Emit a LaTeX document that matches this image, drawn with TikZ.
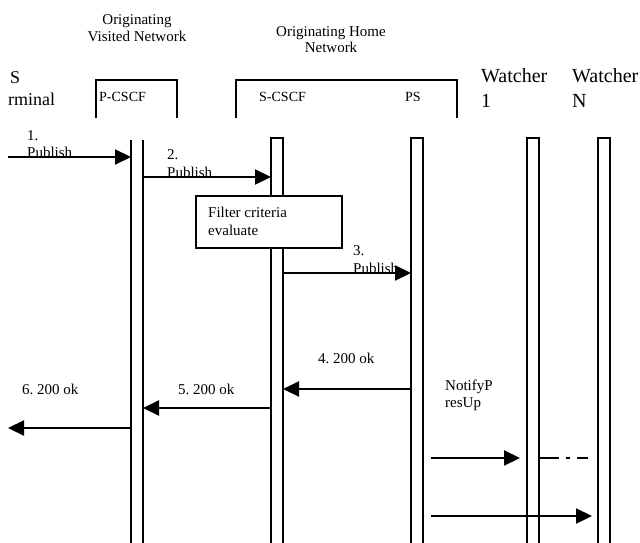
\documentclass[tikz,border=0pt]{standalone}
\usepackage{fontspec}
\setmainfont{Liberation Serif}
\usetikzlibrary{arrows.meta}
\frenchspacing
\tikzset{
  lbl/.style={anchor=base west, inner sep=0pt, font=\fontsize{15}{17}\selectfont},
  hdr/.style={anchor=base, inner sep=0pt, font=\fontsize{15}{17}\selectfont},
  big/.style={anchor=base west, inner sep=0pt, font=\fontsize{20}{24}\selectfont},
  term/.style={anchor=base west, inner sep=0pt, font=\fontsize{18}{21}\selectfont},
  ent/.style={anchor=base west, inner sep=0pt, font=\fontsize{14}{16}\selectfont},
  life/.style={line width=2pt},
  hbox/.style={line width=2pt},
  msg/.style={line width=2.2pt, -{Triangle[length=16pt,width=15pt]}},
  dd/.style={line width=2pt, dash pattern=on 20pt off 7pt on 4pt off 7pt},
}
\begin{document}
\begin{tikzpicture}[x=1pt,y=-1pt]
\useasboundingbox (0,0) rectangle (640,543);
% header texts
\node[hdr] (ovn1) at (137,25) {Originating};
\node[hdr] (ovn2) at (137,42) {Visited Network};
\node[hdr] (ohn1) at (331,37) {Originating Home};
\node[hdr] (ohn2) at (331,53) {Network};
\node[term] (t1) at (10,84) {S};
\node[term] (t2) at (8,105) {rminal};
\node[big] (w1a) at (481,83) {Watcher};
\node[big] (w1b) at (481,107) {1};
\node[big] (wna) at (572,83) {Watcher};
\node[big] (wnb) at (572,107) {N};
% header boxes
\draw[hbox] (96,118) -- (96,80) -- (177,80) -- (177,118);
\draw[line width=2.8pt] (96,118) -- (96,80);
\node[ent] (pcscf) at (99,102) {P-CSCF};
\draw[hbox] (236,118) -- (236,80) -- (457,80) -- (457,118);
\node[ent] (scscf) at (259,102) {S-CSCF};
\node[ent] (ps) at (405,102) {PS};
% lifelines
\draw[life] (131,140) -- (131,548);
\draw[life] (143,140) -- (143,548);
\draw[life] (271,548) -- (271,138) -- (283,138) -- (283,548);
\draw[life] (411,548) -- (411,138) -- (423,138) -- (423,548);
\draw[life] (527,548) -- (527,138) -- (539,138) -- (539,548);
\draw[life] (598,548) -- (598,138) -- (610,138) -- (610,548);
% connection points
\coordinate (s1) at (8,157);   \coordinate (e1) at (131,157);
\coordinate (s2) at (143,177); \coordinate (e2) at (271,177);
\coordinate (s3) at (283,273); \coordinate (e3) at (411,273);
\coordinate (s4) at (411,389); \coordinate (e4) at (283,389);
\coordinate (s5) at (271,408); \coordinate (e5) at (143,408);
\coordinate (s6) at (131,428); \coordinate (e6) at (8,428);
\coordinate (s7) at (431,458); \coordinate (e7) at (520,458);
\coordinate (s8) at (539,458); \coordinate (e8) at (588,458);
\coordinate (s9) at (431,516); \coordinate (e9) at (592,516);
% filter box
\draw[line width=2pt, fill=white] (196,196) rectangle (342,248);
\node[lbl] (f1) at (208,217) {Filter criteria};
\node[lbl] (f2) at (208,235) {evaluate};
% messages
\draw[msg] (s1) -- (e1);
\draw[msg] (s2) -- (e2);
\draw[msg] (s3) -- (e3);
\draw[msg] (s4) -- (e4);
\draw[msg] (s5) -- (e5);
\draw[msg] (s6) -- (e6);
\draw[msg] (s7) -- (e7);
\draw[dd] (s8) -- (e8);
\draw[msg] (s9) -- (e9);
% labels
\node[lbl] (m1a) at (27,140) {1.};
\node[lbl] (m1b) at (27,157) {Publish};
\node[lbl] (m2a) at (167,159) {2.};
\node[lbl] (m2b) at (167,177) {Publish};
\node[lbl] (m3a) at (353,255) {3.};
\node[lbl] (m3b) at (353,273) {Publish};
\node[lbl] (m4) at (318,363) {4. 200 ok};
\node[lbl] (m5) at (178,394) {5. 200 ok};
\node[lbl] (m6) at (22,394) {6. 200 ok};
\node[lbl] (n1) at (445,390) {NotifyP};
\node[lbl] (n2) at (445,407) {resUp};
\end{tikzpicture}
\end{document}
